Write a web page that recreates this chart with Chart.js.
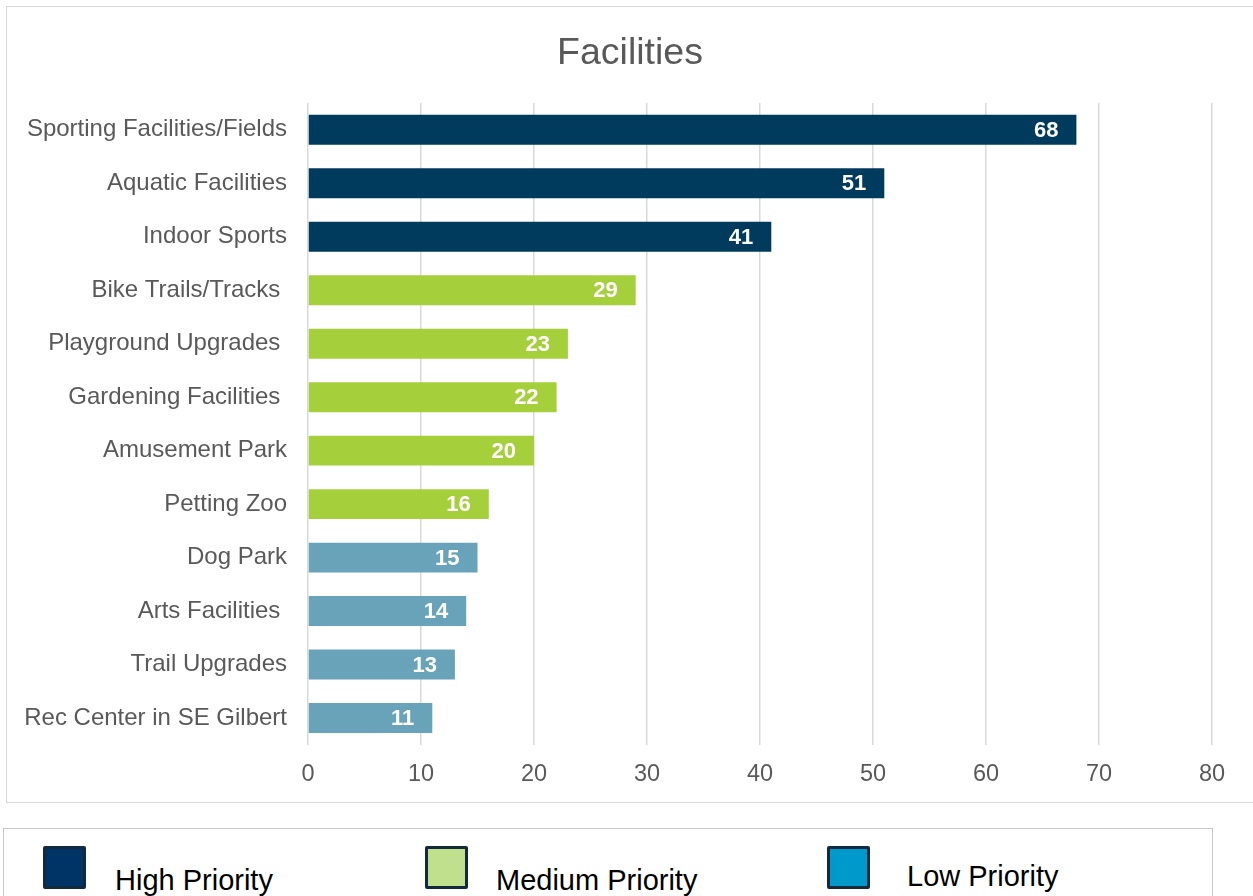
<!DOCTYPE html>
<html>
<head>
<meta charset="utf-8">
<script src="https://cdn.jsdelivr.net/npm/chart.js@4"></script>
<style>
  body { margin: 0; background: #fff; width: 1253px; height: 896px; overflow: hidden; position: relative; font-family: "Liberation Sans", Arial, sans-serif; }
  #box { position: absolute; left: 6px; top: 6px; width: 1270px; height: 795px; border: 1px solid #d9d9d9; }
  #box canvas { position: absolute; left: 0; top: 0; }
  #legend { position: absolute; left: 3px; top: 828px; width: 1208px; height: 120px; border: 1px solid #c8c8c8; }
  .sw { position: absolute; top: 17px; width: 37px; height: 37px; border: 3px solid #13293d; border-radius: 2px; }
  .lt { position: absolute; font-size: 29px; color: #000; white-space: nowrap; }
</style>
</head>
<body>
<div id="box"><canvas id="chart"></canvas></div>
<div id="legend"></div>

<script>
// Data
const categories = [
    'Sporting Facilities/Fields', 'Aquatic Facilities', 'Indoor Sports',
    'Bike Trails/Tracks ', 'Playground Upgrades ', 'Gardening Facilities ',
    'Amusement Park', 'Petting Zoo', 'Dog Park', 'Arts Facilities ',
    'Trail Upgrades', 'Rec Center in SE Gilbert'
];
const responses = [68, 51, 41, 29, 23, 22, 20, 16, 15, 14, 13, 11];
const priorities = ['high', 'high', 'high', 'medium', 'medium', 'medium', 'medium', 'medium', 'low', 'low', 'low', 'low'];
const xTicks = [0, 10, 20, 30, 40, 50, 60, 70, 80];

const barColors = { high: '#003a5d', medium: '#a5cf3b', low: '#68a3b9' };
const legendItems = [
    { label: 'High Priority', fill: '#003366', x: 39, tx: 111, ty: 35 },
    { label: 'Medium Priority', fill: '#c1e08d', x: 421, tx: 492, ty: 35 },
    { label: 'Low Priority', fill: '#0099cc', x: 823, tx: 903, ty: 31 }
];

// Legend lives in its own box under the chart
const legendEl = document.getElementById('legend');
legendItems.forEach(item => {
    const sw = document.createElement('div');
    sw.className = 'sw';
    sw.style.left = item.x + 'px';
    sw.style.background = item.fill;
    legendEl.appendChild(sw);

    const t = document.createElement('div');
    t.className = 'lt';
    t.style.left = item.tx + 'px';
    t.style.top = item.ty + 'px';
    t.textContent = item.label;
    legendEl.appendChild(t);
});

// White value labels inside the bar end
const barValues = {
    id: 'barValues',
    afterDatasetsDraw(chart) {
        const ctx = chart.ctx;
        const meta = chart.getDatasetMeta(0);
        ctx.save();
        ctx.font = 'bold 22px "Liberation Sans", Arial, sans-serif';
        ctx.fillStyle = '#ffffff';
        ctx.textAlign = 'right';
        ctx.textBaseline = 'middle';
        meta.data.forEach((bar, i) => {
            ctx.fillText(String(responses[i]), bar.x - 18, bar.y + 1);
        });
        ctx.restore();
    }
};

const canvas = document.getElementById('chart');
canvas.width = 1246;
canvas.height = 798;
canvas.style.width = '1246px';
canvas.style.height = '798px';

const font = '"Liberation Sans", Arial, sans-serif';

new Chart(canvas, {
    type: 'bar',
    data: {
        labels: categories,
        datasets: [{
            data: responses,
            backgroundColor: priorities.map(p => barColors[p]),
            categoryPercentage: 1,
            barPercentage: 0.56,
            borderWidth: 0
        }]
    },
    options: {
        indexAxis: 'y',
        responsive: false,
        animation: false,
        layout: { padding: 0 },
        plugins: {
            legend: { display: false },
            tooltip: { enabled: false },
            title: {
                display: true,
                text: 'Facilities',
                color: '#595959',
                font: { family: font, size: 37.5, weight: 'normal' },
                padding: { top: 24, bottom: 27 }
            }
        },
        scales: {
            x: {
                min: 0,
                max: 80,
                afterBuildTicks: (scale) => { scale.ticks = xTicks.map(v => ({ value: v })); },
                grid: { color: '#d9d9d9', lineWidth: 1.5, drawTicks: false },
                border: { display: false },
                ticks: {
                    color: '#595959',
                    padding: 16,
                    font: { family: font, size: 23.5 }
                }
            },
            y: {
                grid: { display: false, drawTicks: false },
                border: { display: false },
                afterFit: (scale) => { scale.width = 301; },
                ticks: {
                    color: '#595959',
                    padding: 21,
                    font: { family: font, size: 24 }
                }
            },
            // empty axis on the right, only to keep room beside the plot
            yRight: {
                type: 'category',
                position: 'right',
                grid: { display: false, drawTicks: false },
                border: { display: false },
                ticks: { display: false },
                afterFit: (scale) => { scale.width = 41; }
            }
        }
    },
    plugins: [barValues]
});
</script>
</body>
</html>
